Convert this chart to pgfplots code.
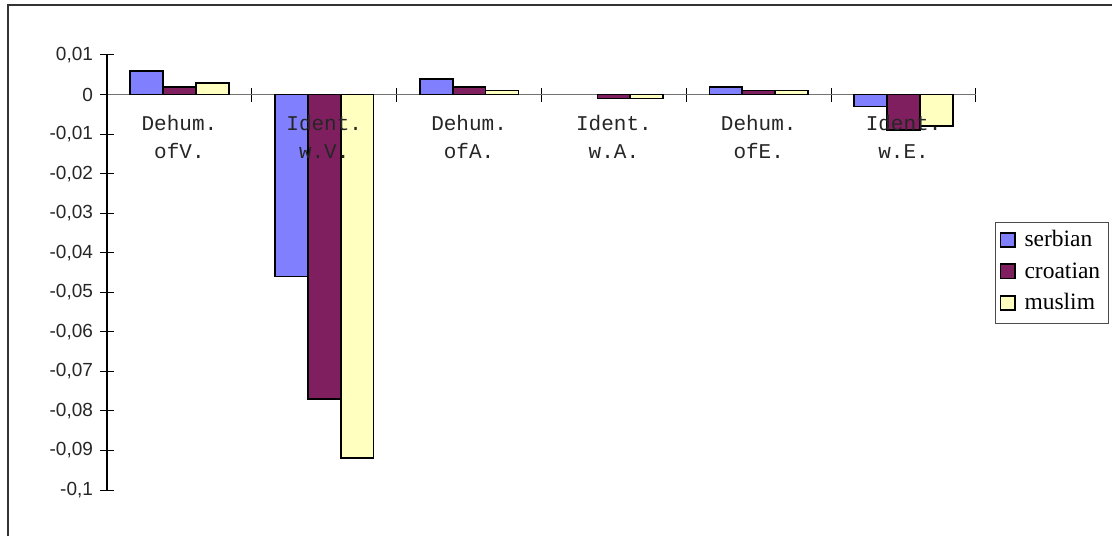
\documentclass[border=0pt]{standalone}
\usepackage{pgfplots}
\pgfplotsset{compat=1.18}
\usepackage{fontspec}
\setmainfont{Liberation Sans}
\newfontfamily\monofont{Liberation Mono}
\newfontfamily\seriffont{Liberation Serif}

\definecolor{serb}{HTML}{8080FF}
\definecolor{croa}{HTML}{801F5F}
\definecolor{musl}{HTML}{FFFFC0}

\pgfplotsset{
  sqlegend/.style={legend image code/.code={
    \draw[##1, line width=0.8pt] (0pt,-2.8pt) rectangle (7.2pt,4.4pt);}},
}

\begin{document}
\begin{tikzpicture}
\path[use as bounding box] (0,0) rectangle (556pt,268pt);
% outer chart frame (only top and left edges are inside the picture)
\draw[black!80, line width=0.75pt] (4pt,0) -- (4pt,265.5pt) -- (556pt,265.5pt);
\begin{axis}[
    at={(53.5pt,23pt)}, anchor=south west,
    width=434.5pt, height=217.5pt, scale only axis,
    xmin=-0.5, xmax=5.5, ymin=-0.1, ymax=0.01,
    axis x line*=middle, axis y line*=left,
    x axis line style={black!55, line width=0.6pt},
    y axis line style={black, line width=0.6pt},
    xtick={-0.5,0.5,1.5,2.5,3.5,4.5,5.5}, xticklabels={},
    ytick={-0.1,-0.09,-0.08,-0.07,-0.06,-0.05,-0.04,-0.03,-0.02,-0.01,0,0.01},
    tick align=center, major tick length=7pt,
    tick style={black, line width=0.5pt},
    yticklabel style={font=\fontsize{9.5}{11}\selectfont, text=black!85,
      /pgf/number format/.cd, fixed, precision=2, use comma, assume math mode=true},
    clip=false,
    legend style={at={(1.0219,0.616)}, anchor=north west, draw=black!70,
      line width=0.5pt, fill=white,
      font=\seriffont\fontsize{11.75}{13}\selectfont,
      inner xsep=2pt, inner ysep=4.5pt, row sep=5.75pt, column sep=2.5pt,
      nodes={inner xsep=2pt, inner ysep=0pt, text height=7.5pt, text depth=2.5pt}},
    legend cell align=left,
  ]

  \addplot[ybar, bar width=0.227, bar shift=-0.227, fill=serb, draw=black,
    line width=0.9pt, sqlegend] coordinates {
    (0,0.006) (1,-0.046) (2,0.004) (4,0.002) (5,-0.003)
  };
  \addlegendentry{serbian}

  \addplot[ybar, bar width=0.227, bar shift=0, fill=croa, draw=black,
    line width=0.9pt, sqlegend] coordinates {
    (0,0.002) (1,-0.077) (2,0.002) (3,-0.001) (4,0.001) (5,-0.009)
  };
  \addlegendentry{croatian}

  \addplot[ybar, bar width=0.227, bar shift=0.227, fill=musl, draw=black,
    line width=0.9pt, sqlegend] coordinates {
    (0,0.003) (1,-0.092) (2,0.001) (3,-0.001) (4,0.001) (5,-0.008)
  };
  \addlegendentry{muslim}

  % category names, two lines each, drawn over the bars
  \foreach \i/\a/\b in {0/Dehum./ofV., 1/Ident./w.V., 2/Dehum./ofA.,
                        3/Ident./w.A., 4/Dehum./ofE., 5/Ident./w.E.} {
    \edef\temp{\noexpand\node[anchor=base, yshift=-18pt, font=\noexpand\monofont\noexpand\fontsize{10.5}{12}\noexpand\selectfont, text=black!85]
      at (axis cs:\i,0) {\a};
    \noexpand\node[anchor=base, yshift=-32pt, font=\noexpand\monofont\noexpand\fontsize{10.5}{12}\noexpand\selectfont, text=black!85]
      at (axis cs:\i,0) {\b};}
    \temp
  }

\end{axis}
\end{tikzpicture}
\end{document}
